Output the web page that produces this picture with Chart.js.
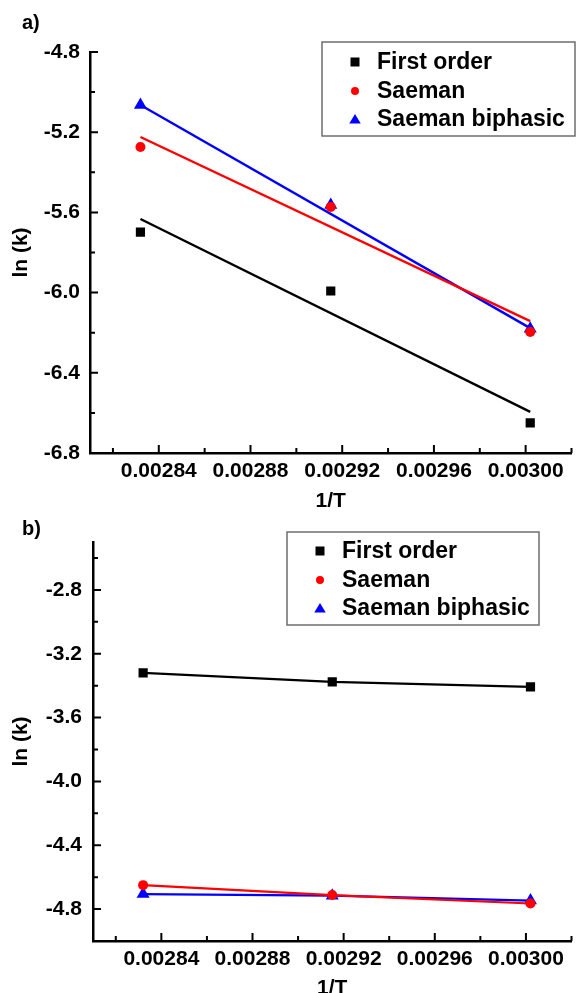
<!DOCTYPE html>
<html>
<head>
<meta charset="utf-8">
<script src="https://cdn.jsdelivr.net/npm/chart.js@4/dist/chart.umd.min.js"></script>
<style>
html, body { margin: 0; padding: 0; background: #fff; overflow: hidden; }
#page { position: relative; width: 579px; height: 993px; overflow: hidden; }
canvas { position: absolute; left: 0; }
#chartA { top: 0; }
#chartB { top: 515px; }
.tag { position: absolute; font: bold 20px 'Liberation Sans', Arial, sans-serif; color: #000; line-height: 24px; }
</style>
</head>
<body>
<div id="page">
  <canvas id="chartA" width="579" height="515"></canvas>
  <canvas id="chartB" width="579" height="490"></canvas>
  <div class="tag" style="left:22px; top:10px">a)</div>
  <div class="tag" style="left:22px; top:516px">b)</div>
</div>
<script>
// 1/T for the three temperatures
const invT = [0.002832, 0.002915, 0.003002];
const fitX = [0.002832, 0.003002];

// a) ln(k) points
const firstOrderA = [-5.698, -5.992, -6.650];
const saemanA = [-5.274, -5.573, -6.196];
const biphasicA = [-5.064, -5.563, -6.180];
// a) fitted lines (ends)
const firstOrderFitA = [-5.633, -6.595];
const saemanFitA = [-5.224, -6.142];
const biphasicFitA = [-5.064, -6.177];

// b) ln(k) points
const firstOrderB = [-3.320, -3.377, -3.408];
const saemanB = [-4.650, -4.712, -4.765];
const biphasicB = [-4.706, -4.716, -4.747];

const seriesNames = ['First order', 'Saeman', 'Saeman biphasic'];

// ticks
const xTicks = [0.00284, 0.00288, 0.00292, 0.00296, 0.00300];
const xMinor = [0.00282, 0.00286, 0.00290, 0.00294, 0.00298, 0.00302];
const yTicksA = [-6.8, -6.4, -6.0, -5.6, -5.2, -4.8];
const yMinorA = [-6.6, -6.2, -5.8, -5.4, -5.0];
const yTicksB = [-4.8, -4.4, -4.0, -3.6, -3.2, -2.8];
const yMinorB = [-4.6, -4.2, -3.8, -3.4, -3.0, -2.6];

const colors = ['#000000', '#ff0000', '#0000ff'];
const shapes = ['rect', 'circle', 'triangle'];
const radii = [6.5, 5, 7.5];
const FONT = "'Liberation Sans', Arial, sans-serif";

const toXY = (xs, ys) => xs.map((x, i) => ({ x: x, y: ys[i] }));

function drawMarker(ctx, shape, x, y, r, color) {
    ctx.fillStyle = color;
    ctx.beginPath();
    if (shape === 'rect') {
        ctx.rect(x - r, y - r, 2 * r, 2 * r);
    } else if (shape === 'circle') {
        ctx.arc(x, y, r, 0, Math.PI * 2);
    } else {
        ctx.moveTo(x, y - r);
        ctx.lineTo(x + r * 1.15, y + r * 0.9);
        ctx.lineTo(x - r * 1.15, y + r * 0.9);
        ctx.closePath();
    }
    ctx.fill();
}

// legend with a frame, drawn inside the plot
const boxLegend = {
    id: 'boxLegend',
    afterDraw(chart, args, opts) {
        const ctx = chart.ctx;
        ctx.save();
        ctx.strokeStyle = '#6e6e6e';
        ctx.lineWidth = 1.5;
        ctx.strokeRect(opts.left, opts.top, opts.width, opts.height);
        const items = chart.data.datasets.filter(ds => !ds.isFit);
        ctx.font = 'bold 23px ' + FONT;
        ctx.textBaseline = 'middle';
        ctx.textAlign = 'left';
        items.forEach((ds, i) => {
            const y = opts.rows[i];
            drawMarker(ctx, ds.pointStyle, opts.markerX, y, [4.5, 4, 5][i], ds.backgroundColor);
            ctx.fillStyle = '#000';
            ctx.fillText(ds.label, opts.textX, y + 1);
        });
        ctx.restore();
    }
};

// tick marks pointing into the plot
const innerTicks = {
    id: 'innerTicks',
    afterDraw(chart, args, opts) {
        const { ctx, chartArea: a, scales: { x, y } } = chart;
        ctx.save();
        ctx.strokeStyle = '#000';
        ctx.lineWidth = 2;
        ctx.beginPath();
        xTicks.forEach(v => { const p = x.getPixelForValue(v); ctx.moveTo(p, a.bottom); ctx.lineTo(p, a.bottom - 8); });
        xMinor.forEach(v => { const p = x.getPixelForValue(v); ctx.moveTo(p, a.bottom); ctx.lineTo(p, a.bottom - 5); });
        opts.yMajor.forEach(v => { const p = y.getPixelForValue(v); ctx.moveTo(a.left, p); ctx.lineTo(a.left + 8, p); });
        opts.yMinor.forEach(v => { const p = y.getPixelForValue(v); ctx.moveTo(a.left, p); ctx.lineTo(a.left + 5, p); });
        ctx.stroke();
        ctx.restore();
    }
};

function makeChart(id, datasets, o) {
    return new Chart(document.getElementById(id), {
        type: 'scatter',
        data: { datasets: datasets },
        plugins: [boxLegend, innerTicks],
        options: {
            responsive: false,
            animation: false,
            devicePixelRatio: 1,
            layout: { padding: { left: 0, right: 0, top: o.top, bottom: 0 } },
            plugins: {
                legend: { display: false },
                tooltip: { enabled: false },
                boxLegend: o.legend,
                innerTicks: { yMajor: o.yTicks, yMinor: o.yMinor }
            },
            scales: {
                x: {
                    type: 'linear',
                    min: 0.00281,
                    max: 0.00302,
                    grid: { display: false, drawTicks: false },
                    border: { display: true, color: '#000', width: 2.5 },
                    afterBuildTicks: s => { s.ticks = xTicks.map(v => ({ value: v })); },
                    afterFit: s => { s.height = o.xHeight; s.paddingLeft = 0; s.paddingRight = 0; },
                    ticks: {
                        autoSkip: false, maxRotation: 0, padding: 6, color: '#000',
                        font: { family: FONT, size: 21, weight: 'bold' },
                        callback: v => v.toFixed(5)
                    },
                    title: {
                        display: true, text: '1/T', color: '#000',
                        font: { family: FONT, size: 21, weight: 'bold' },
                        padding: { top: 0, bottom: o.titlePad }
                    }
                },
                y: {
                    type: 'linear',
                    min: o.yMin,
                    max: o.yMax,
                    grid: { display: false, drawTicks: false },
                    border: { display: true, color: '#000', width: 2.5 },
                    afterBuildTicks: s => { s.ticks = o.yTicks.map(v => ({ value: v })); },
                    afterFit: s => { s.width = o.yWidth; },
                    ticks: {
                        autoSkip: false, padding: o.yPad, color: '#000',
                        font: { family: FONT, size: 21, weight: 'bold' },
                        callback: v => v.toFixed(1)
                    },
                    title: {
                        display: true, text: 'ln (k)', color: '#000',
                        font: { family: FONT, size: 21, weight: 'bold' },
                        padding: { top: 9, bottom: 0 }
                    }
                }
            }
        }
    });
}

function pointSet(i, ys, line) {
    return {
        label: seriesNames[i],
        data: toXY(invT, ys),
        showLine: line,
        borderColor: colors[i],
        backgroundColor: colors[i],
        borderWidth: 2.2,
        pointStyle: shapes[i],
        pointRadius: radii[i],
        pointBackgroundColor: colors[i],
        pointBorderColor: colors[i],
        pointBorderWidth: 0
    };
}

function fitSet(i, ys) {
    return {
        label: seriesNames[i] + ' fit',
        isFit: true,
        data: toXY(fitX, ys),
        showLine: true,
        borderColor: colors[i],
        backgroundColor: colors[i],
        borderWidth: 2.4,
        pointRadius: 0
    };
}

makeChart('chartA', [
    pointSet(0, firstOrderA, false),
    pointSet(1, saemanA, false),
    pointSet(2, biphasicA, false),
    fitSet(0, firstOrderFitA),
    fitSet(1, saemanFitA),
    fitSet(2, biphasicFitA)
], {
    top: 52, xHeight: 62, titlePad: 1, yWidth: 90, yPad: 10,
    yMin: -6.8, yMax: -4.8, yTicks: yTicksA, yMinor: yMinorA,
    legend: { left: 322, top: 42, width: 253, height: 94, markerX: 355, textX: 377, rows: [62, 91, 119] }
});

makeChart('chartB', [
    pointSet(0, firstOrderB, true),
    pointSet(1, saemanB, true),
    pointSet(2, biphasicB, true)
], {
    top: 27, xHeight: 64, titlePad: 4, yWidth: 93, yPad: 11,
    yMin: -5.0, yMax: -2.5, yTicks: yTicksB, yMinor: yMinorB,
    legend: { left: 287, top: 17, width: 252, height: 93, markerX: 320, textX: 342, rows: [36, 65, 93] }
});
</script>
</body>
</html>
